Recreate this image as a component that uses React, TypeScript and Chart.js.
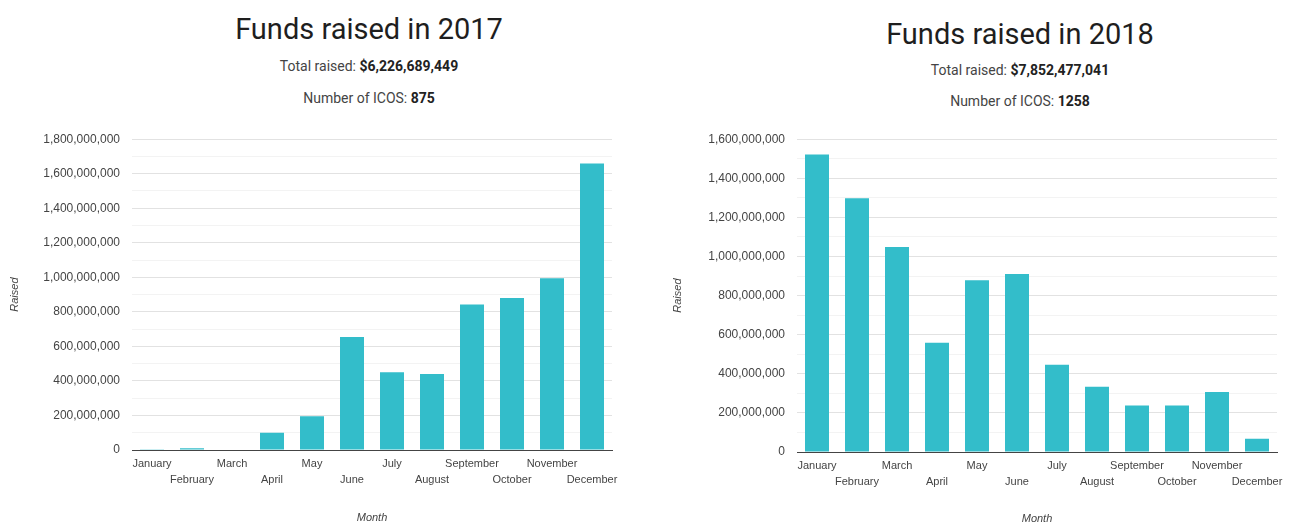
import React, { useEffect, useRef } from "react";
import { Chart, registerables } from "chart.js";

Chart.register(...registerables);
Chart.defaults.font.family = '"Liberation Sans", Arial, sans-serif';

const months = [
  "January", "February", "March", "April", "May", "June",
  "July", "August", "September", "October", "November", "December",
];

const raised2017 = [
  1000000, 10000000, 3000000, 100000000, 195000000, 654000000,
  451000000, 440000000, 843000000, 881000000, 994000000, 1659000000,
];

const raised2018 = [
  1522000000, 1298000000, 1048000000, 559000000, 879000000, 910000000,
  446000000, 334000000, 238000000, 238000000, 307000000, 68000000,
];

const yMax2017 = 1800000000;
const yMax2018 = 1600000000;
const minorStep = 100000000;
const majorStep = 200000000;

const titles = ["Funds raised in 2017", "Funds raised in 2018"];
const totals = ["$6,226,689,449", "$7,852,477,041"];
const icoCounts = ["875", "1258"];

const BAR_COLOR = "#33bdca";
const TEXT = "#444";

type ChartProps = {
  values: number[];
  yMax: number;
  width: number;
  height: number;
  left: number;
  top: number;
  padTop: number;
  padRight: number;
  yWidth: number;
  xHeight: number;
  yTitlePad: number;
};

function FundsChart(p: ChartProps) {
  const ref = useRef<HTMLCanvasElement | null>(null);
  useEffect(() => {
    if (!ref.current) return;
    const chart = new Chart(ref.current, {
      type: "bar",
      data: {
        labels: months,
        datasets: [
          {
            data: p.values,
            backgroundColor: BAR_COLOR,
            borderWidth: 0,
            barPercentage: 0.6,
            categoryPercentage: 1,
          },
        ],
      },
      options: {
        animation: false,
        responsive: false,
        maintainAspectRatio: false,
        layout: { padding: { top: p.padTop, right: p.padRight, left: 0, bottom: 0 } },
        plugins: {
          legend: { display: false },
          tooltip: { enabled: false },
          title: { display: false },
        },
        scales: {
          x: {
            grid: { display: false, drawTicks: false },
            border: { display: true, color: "#444", width: 1 },
            ticks: {
              autoSkip: false,
              maxRotation: 0,
              minRotation: 0,
              padding: 6,
              color: TEXT,
              font: { size: 11, lineHeight: 16 / 11 },
              callback: function (this: any, v: any, i: number) {
                const l = this.getLabelForValue(v);
                return i % 2 ? ["", l] : l;
              },
            },
            title: {
              display: true,
              text: "Month",
              color: TEXT,
              font: { size: 11, style: "italic" },
              padding: 0,
            },
            afterFit: (s: any) => {
              s.height = p.xHeight;
            },
          },
          y: {
            min: 0,
            max: p.yMax,
            ticks: {
              stepSize: minorStep,
              autoSkip: false,
              padding: 12,
              color: TEXT,
              font: { size: 12 },
              callback: (v: any) =>
                Number(v) % majorStep === 0 ? Number(v).toLocaleString("en-US") : "",
            },
            grid: {
              drawTicks: false,
              color: (ctx: any) =>
                ctx.tick && ctx.tick.value % majorStep === 0 ? "#e2e2e2" : "#f3f3f3",
            },
            border: { display: false },
            title: {
              display: true,
              text: "Raised",
              color: TEXT,
              font: { size: 11, style: "italic" },
              padding: { top: p.yTitlePad, bottom: 0 },
            },
            afterFit: (s: any) => {
              s.width = p.yWidth;
            },
          },
        },
      },
    } as any);
    return () => chart.destroy();
  }, []);
  return (
    <canvas
      ref={ref}
      width={p.width}
      height={p.height}
      style={{
        position: "absolute",
        left: p.left,
        top: p.top,
        width: p.width,
        height: p.height,
      }}
    />
  );
}

type HeaderProps = {
  cx: number;
  titleTop: number;
  totalTop: number;
  countTop: number;
  idx: number;
};

function Header(h: HeaderProps) {
  const base: React.CSSProperties = {
    position: "absolute",
    left: h.cx - 250,
    width: 500,
    textAlign: "center",
    fontFamily: "Roboto, 'Noto Sans', sans-serif",
    whiteSpace: "nowrap",
  };
  return (
    <>
      <div style={{ ...base, top: h.titleTop, fontSize: 29, lineHeight: "29px", color: "#1e1e1e" }}>
        {titles[h.idx]}
      </div>
      <div style={{ ...base, top: h.totalTop, fontSize: 14, lineHeight: "14px", color: "#444" }}>
        Total raised: <b style={{ color: "#222" }}>{totals[h.idx]}</b>
      </div>
      <div style={{ ...base, top: h.countTop, fontSize: 14, lineHeight: "14px", color: "#444" }}>
        Number of ICOS: <b style={{ color: "#222" }}>{icoCounts[h.idx]}</b>
      </div>
    </>
  );
}

export default function App() {
  return (
    <div
      style={{
        position: "absolute",
        left: 0,
        top: 0,
        width: 1289,
        height: 522,
        overflow: "hidden",
        background: "#fff",
      }}
    >
      <Header cx={369} titleTop={15} totalTop={59} countTop={91} idx={0} />
      <Header cx={1020} titleTop={20} totalTop={63} countTop={94} idx={1} />
      <FundsChart
        values={raised2017}
        yMax={yMax2017}
        width={640}
        height={405}
        left={0}
        top={120}
        padTop={16}
        padRight={28}
        yWidth={132}
        xHeight={75}
        yTitlePad={8}
      />
      <FundsChart
        values={raised2018}
        yMax={yMax2018}
        width={629}
        height={406}
        left={660}
        top={120}
        padTop={19}
        padRight={12}
        yWidth={137}
        xHeight={74}
        yTitlePad={11}
      />
    </div>
  );
}
